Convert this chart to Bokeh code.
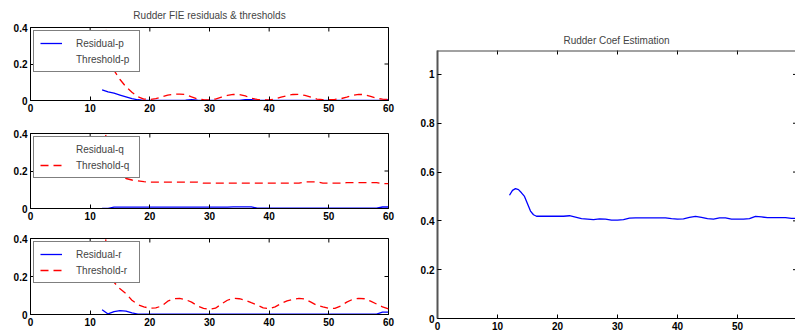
import math
from bokeh.plotting import figure
from bokeh.models import FixedTicker, Legend, LegendItem, Range1d
from bokeh.layouts import row, column
from bokeh.embed import file_html
from bokeh.resources import INLINE

# ---------------- data ----------------
t_res = [12, 13, 14, 15, 16, 17, 18, 19, 20, 21, 22, 23, 24, 25, 26, 27, 28, 29, 30,
         31, 32, 33, 34, 35, 36, 37, 38, 39, 40, 41, 42, 43, 44, 45, 46, 47, 48, 49, 50,
         51, 52, 53, 54, 55, 56, 57, 58, 59, 60]

residual_p = [0.058, 0.047, 0.040, 0.030, 0.020, 0.010, 0.004, 0.001, 0.001, 0.001, 0.001,
              0.001, 0.001, 0.001, 0.002, 0.005, 0.002, 0.001, 0.001, 0.001, 0.001, 0.001,
              0.001, 0.001, 0.005, 0.004, 0.001, 0.001, 0.001, 0.001, 0.001, 0.001, 0.001,
              0.001, 0.001, 0.001, 0.001, 0.001, 0.001, 0.001, 0.001, 0.001, 0.001, 0.001,
              0.001, 0.001, 0.001, 0.002, 0.005]
threshold_p = [0.60, 0.26, 0.165, 0.115, 0.075, 0.045, 0.020, 0.008, 0.005, 0.010, 0.020,
               0.030, 0.034, 0.035, 0.033, 0.020, 0.008, 0.004, 0.003, 0.008, 0.018, 0.028,
               0.033, 0.032, 0.025, 0.012, 0.006, 0.004, 0.003, 0.008, 0.018, 0.027, 0.033,
               0.034, 0.028, 0.018, 0.008, 0.005, 0.004, 0.006, 0.010, 0.018, 0.028, 0.034,
               0.032, 0.022, 0.012, 0.007, 0.006]

residual_q = [0.001, 0.001, 0.007, 0.007, 0.007, 0.007, 0.007, 0.007, 0.007, 0.007, 0.007,
              0.007, 0.007, 0.007, 0.007, 0.007, 0.007, 0.007, 0.007, 0.007, 0.007, 0.007,
              0.009, 0.009, 0.009, 0.009, 0.002, 0.002, 0.002, 0.002, 0.002, 0.002, 0.002,
              0.002, 0.002, 0.002, 0.002, 0.002, 0.002, 0.002, 0.002, 0.002, 0.002, 0.002,
              0.002, 0.002, 0.002, 0.008, 0.008]
threshold_q = [0.60, 0.26, 0.19, 0.17, 0.16, 0.152, 0.147, 0.143, 0.141, 0.141, 0.141,
               0.141, 0.141, 0.141, 0.141, 0.141, 0.141, 0.135, 0.135, 0.135, 0.135, 0.135,
               0.135, 0.136, 0.135, 0.135, 0.135, 0.135, 0.135, 0.135, 0.135, 0.135, 0.135,
               0.135, 0.142, 0.142, 0.142, 0.135, 0.135, 0.135, 0.135, 0.138, 0.138, 0.138,
               0.138, 0.138, 0.138, 0.133, 0.133]

residual_r = [0.025, 0.003, 0.015, 0.020, 0.018, 0.008, 0.002, 0.002, 0.002, 0.002, 0.002,
              0.002, 0.002, 0.002, 0.002, 0.002, 0.002, 0.002, 0.002, 0.002, 0.002, 0.002,
              0.002, 0.002, 0.002, 0.002, 0.002, 0.002, 0.002, 0.002, 0.002, 0.002, 0.002,
              0.002, 0.002, 0.002, 0.002, 0.002, 0.002, 0.002, 0.002, 0.002, 0.002, 0.002,
              0.002, 0.002, 0.002, 0.012, 0.012]
threshold_r = [0.60, 0.26, 0.17, 0.135, 0.11, 0.075, 0.052, 0.040, 0.033, 0.035, 0.045,
               0.070, 0.083, 0.085, 0.078, 0.065, 0.045, 0.032, 0.027, 0.033, 0.055, 0.075,
               0.085, 0.083, 0.075, 0.062, 0.050, 0.035, 0.030, 0.040, 0.058, 0.072, 0.080,
               0.085, 0.082, 0.065, 0.048, 0.040, 0.033, 0.032, 0.045, 0.065, 0.080, 0.085,
               0.083, 0.070, 0.055, 0.040, 0.030]

t_coef = [12, 12.5, 13, 13.5, 14, 14.5, 15, 15.5, 16, 16.5, 17, 18, 19, 20, 21, 22, 23, 24,
          25, 26, 27, 28, 29, 30, 31, 32, 33, 34, 35, 36, 37, 38, 39, 40, 41, 42, 43, 44,
          45, 46, 47, 48, 49, 50, 51, 52, 53, 54, 55, 56, 57, 58, 59, 60]
coef = [0.505, 0.525, 0.532, 0.528, 0.515, 0.500, 0.470, 0.440, 0.425, 0.419, 0.419, 0.419,
        0.419, 0.419, 0.419, 0.421, 0.415, 0.409, 0.407, 0.405, 0.408, 0.407, 0.403, 0.403,
        0.405, 0.411, 0.412, 0.412, 0.412, 0.412, 0.412, 0.412, 0.409, 0.407, 0.408, 0.414,
        0.418, 0.414, 0.409, 0.407, 0.412, 0.412, 0.407, 0.407, 0.407, 0.409, 0.418, 0.416,
        0.413, 0.413, 0.413, 0.413, 0.410, 0.410]

x_ticks = [0, 10, 20, 30, 40, 50, 60]
res_ticks = [0, 0.2, 0.4]
res_tick_labels = ["0", "0.2", "0.4"]
coef_ticks = [0, 0.2, 0.4, 0.6, 0.8, 1]
coef_tick_labels = ["0", "0.2", "0.4", "0.6", "0.8", "1"]

FONT = "Liberation Sans"
BLUE = "#0000ff"
RED = "#ff0000"


def style_axis(ax):
    ax.major_tick_in = 4
    ax.major_tick_out = 0
    ax.minor_tick_line_color = None
    ax.axis_line_color = "black"
    ax.major_tick_line_color = "black"
    ax.major_label_text_font = FONT
    ax.major_label_text_font_style = "bold"
    ax.major_label_text_color = "black"
    ax.major_label_text_font_size = "10px"
    ax.major_label_standoff = 3


def frame_ticks(p, xt, yt, x_edge, y_edge, size_top=8, size_right=8):
    # inward tick marks on the top and right edges of the box (clipped to the frame)
    p.scatter(xt, [y_edge] * len(xt), marker="dash", angle=math.pi / 2,
              size=size_top, line_color="black", line_width=1)
    p.scatter([x_edge] * len(yt), yt, marker="dash",
              size=size_right, line_color="black", line_width=1)


def make_left(height, top, bottom, title, resid, thresh, names, show):
    p = figure(width=400, height=height, x_range=Range1d(0, 60), y_range=Range1d(0, 0.4),
               output_backend="svg", toolbar_location=None, title=title,
               min_border_left=30, min_border_right=12, min_border_top=top,
               min_border_bottom=bottom)
    p.xgrid.grid_line_color = None
    p.ygrid.grid_line_color = None
    p.outline_line_color = "black"
    p.background_fill_color = "white"
    p.border_fill_color = "white"
    p.xaxis.ticker = FixedTicker(ticks=x_ticks)
    p.yaxis.ticker = FixedTicker(ticks=res_ticks)
    p.yaxis.major_label_overrides = dict(zip(res_ticks, res_tick_labels))
    style_axis(p.xaxis[0])
    style_axis(p.yaxis[0])
    frame_ticks(p, x_ticks, res_ticks, p.x_range.end, p.y_range.end)
    if title:
        p.title.align = "center"
        p.title.text_font = FONT
        p.title.text_font_size = "10px"
        p.title.text_font_style = "normal"
        p.title.standoff = 14

    rb = p.line(t_res, resid, line_color=BLUE, line_width=1.3)
    rr = p.line(t_res, thresh, line_color=RED, line_width=1.3, line_dash="8 5")
    # some legend samples are blank in the original picture: use empty renderers for those
    lb = rb if show[0] else p.line([], [], line_color=BLUE)
    lr = rr if show[1] else p.line([], [], line_color=RED)
    leg = Legend(items=[LegendItem(label=names[0], renderers=[lb]),
                        LegendItem(label=names[1], renderers=[lr])],
                 location="top_left", margin=3, padding=6, spacing=4,
                 glyph_width=22, glyph_height=12, label_height=12, label_width=57,
                 label_standoff=14, label_text_font=FONT, label_text_font_size="10px",
                 border_line_color="black", border_line_width=1,
                 background_fill_color="white", background_fill_alpha=1)
    p.add_layout(leg)
    return p


p1 = make_left(114, 25, 14, "Rudder FIE residuals & thresholds", residual_p, threshold_p,
               ["Residual-p", "Threshold-p"], (True, False))
p2 = make_left(108, 19, 14, None, residual_q, threshold_q,
               ["Residual-q", "Threshold-q"], (False, True))
p3 = make_left(112, 16, 20, None, residual_r, threshold_r,
               ["Residual-r", "Threshold-r"], (True, True))

p4 = figure(width=395, height=334, x_range=Range1d(0, 59.67), y_range=Range1d(0, 1.098),
            output_backend="svg", toolbar_location=None, title="Rudder Coef Estimation",
            min_border_left=37, min_border_right=0, min_border_top=50, min_border_bottom=16)
p4.xgrid.grid_line_color = None
p4.ygrid.grid_line_color = None
p4.outline_line_color = None
p4.background_fill_color = "white"
p4.border_fill_color = "white"
p4.xaxis.ticker = FixedTicker(ticks=x_ticks)
p4.yaxis.ticker = FixedTicker(ticks=coef_ticks)
p4.yaxis.major_label_overrides = dict(zip(coef_ticks, coef_tick_labels))
style_axis(p4.xaxis[0])
style_axis(p4.yaxis[0])
p4.yaxis[0].axis_line_color = "#555555"
p4.yaxis[0].axis_line_width = 2
p4.title.align = "center"
p4.title.text_font = FONT
p4.title.text_font_size = "10px"
p4.title.text_font_style = "normal"
p4.title.standoff = 10
p4.line(t_coef, coef, line_color=BLUE, line_width=1.3)
frame_ticks(p4, x_ticks, coef_ticks, p4.x_range.end, p4.y_range.end, size_top=8, size_right=5)
# top edge of the box (the right edge lies outside the window)
p4.line([p4.x_range.start, p4.x_range.end], [p4.y_range.end] * 2, line_color="#444444",
        line_width=2)

layout = row(column(p1, p2, p3, spacing=0), p4, spacing=0)
open("out.html", "w").write(file_html(layout, INLINE))
